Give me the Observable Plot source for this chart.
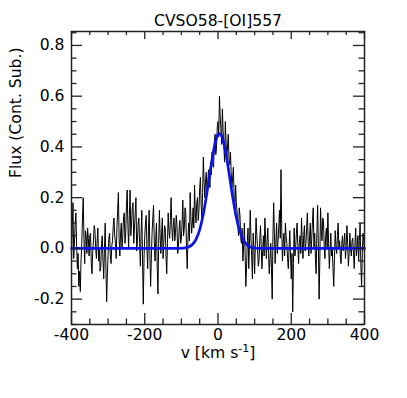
<!DOCTYPE html>
<html><head><meta charset="utf-8">
<script src="https://cdn.jsdelivr.net/npm/d3@7"></script>
<script src="https://cdn.jsdelivr.net/npm/@observablehq/plot@0.6"></script>
<style>body{margin:0;background:#fff}</style>
</head><body><div id="chart"></div>
<script>
const title = "CVSO58-[OI]557";
const xLabelMain = "v [km s";
const xLabelSup = "-1";
const xLabelEnd = "]";
const yLabel = "Flux (Cont. Sub.)";

// spectrum: one value every 2 km/s starting at -400 km/s
const vStart = -400, vStep = 2;
const flux = [
  -0.05, 0.08, 0.18, -0.04, 0.02, 0.10, 0.14, 0.01, -0.08, -0.02, -0.15, -0.09, -0.17, -0.05, 0.02, 0.12, 0.20, 0.04, -0.06, 0.07,
  0.05, -0.02, 0.08, 0.04, -0.03, 0.05, 0.06, -0.06, -0.10, -0.01, 0.03, 0.09, 0.07, 0.00, -0.04, 0.03, 0.08, -0.05, 0.00, -0.09,
  -0.07, 0.02, 0.05, -0.05, -0.12, 0.00, 0.10, -0.08, -0.21, -0.10, -0.02, 0.04, 0.06, -0.03, -0.06, 0.01, 0.03, 0.09, 0.12, 0.05,
  0.02, -0.04, 0.08, 0.15, 0.22, 0.04, -0.03, 0.06, 0.10, 0.00, 0.05, 0.12, 0.14, 0.02, 0.06, 0.17, 0.23, 0.09, 0.00, 0.13,
  0.23, 0.05, 0.10, 0.16, 0.18, 0.02, 0.08, 0.14, 0.20, -0.01, 0.03, 0.10, 0.12, 0.02, -0.07, 0.06, 0.15, -0.05, -0.22, -0.04,
  0.05, 0.10, 0.13, 0.00, -0.08, 0.07, 0.15, -0.02, -0.15, -0.04, 0.06, 0.12, 0.17, 0.03, -0.05, 0.04, 0.10, -0.07, -0.18, 0.02,
  0.15, 0.05, -0.02, 0.06, 0.12, -0.04, 0.02, 0.09, 0.08, -0.03, -0.10, 0.02, 0.14, 0.07, 0.04, 0.11, 0.20, 0.08, 0.03, 0.09,
  0.12, 0.03, 0.06, 0.13, 0.09, -0.02, 0.01, 0.08, 0.11, 0.02, 0.04, 0.10, 0.19, 0.05, 0.08, 0.16, 0.14, 0.00, -0.08, 0.04,
  0.10, 0.03, 0.22, 0.12, 0.06, 0.10, 0.16, 0.08, 0.25, 0.14, 0.10, 0.18, 0.20, 0.11, 0.15, 0.24, 0.28, 0.17, 0.12, 0.22,
  0.36, 0.26, 0.20, 0.27, 0.30, 0.22, 0.25, 0.31, 0.28, 0.24, 0.34, 0.29, 0.38, 0.33, 0.32, 0.42, 0.45, 0.37, 0.40, 0.48,
  0.50, 0.44, 0.60, 0.52, 0.47, 0.41, 0.55, 0.46, 0.40, 0.34, 0.50, 0.42, 0.36, 0.40, 0.45, 0.35, 0.33, 0.38, 0.30, 0.24,
  0.28, 0.32, 0.20, 0.14, 0.25, 0.18, 0.15, 0.09, 0.05, 0.16, 0.13, 0.04, 0.02, 0.08, -0.05, 0.01, 0.10, -0.02, -0.15, -0.07,
  0.03, 0.08, -0.08, 0.02, 0.15, 0.04, -0.03, -0.12, 0.06, 0.00, -0.10, 0.02, 0.12, 0.05, 0.00, -0.07, -0.05, 0.03, 0.09, 0.01,
  -0.08, -0.01, 0.05, -0.03, 0.12, 0.04, -0.04, 0.03, 0.08, -0.02, -0.10, -0.04, 0.02, -0.08, -0.20, 0.05, 0.18, 0.06, -0.06, 0.02,
  0.10, -0.02, 0.03, 0.09, 0.15, 0.04, 0.31, 0.08, -0.05, 0.02, 0.06, -0.03, 0.10, 0.05, 0.02, -0.04, -0.08, 0.00, 0.07, -0.03,
  -0.12, -0.02, -0.25, -0.06, 0.08, -0.03, 0.00, 0.06, 0.10, 0.01, -0.06, 0.02, 0.05, -0.02, 0.12, 0.03, -0.04, 0.05, 0.09, -0.01,
  0.02, 0.08, 0.14, 0.03, -0.03, 0.05, 0.10, -0.02, 0.04, 0.11, 0.16, 0.00, 0.06, -0.04, -0.10, 0.06, 0.17, 0.02, -0.20, -0.05,
  0.16, 0.07, 0.03, 0.12, 0.11, 0.01, -0.04, 0.05, 0.08, 0.00, 0.14, 0.02, -0.08, -0.01, 0.06, -0.03, 0.00, -0.08, -0.15, -0.04,
  0.07, 0.01, -0.02, 0.05, 0.10, 0.00, 0.03, -0.03, -0.06, 0.02, 0.05, -0.01, 0.02, 0.06, -0.04, 0.01, 0.09, 0.02, -0.07, -0.02,
  0.06, 0.00, -0.03, 0.03, 0.04, -0.02, -0.08, 0.02, 0.08, -0.03, 0.01, 0.05, -0.05, 0.03, 0.10, -0.06, -0.15, -0.02, 0.06, 0.03,
  -0.02
];

// Gaussian fit
const fitV    = [-400, -110, -100, -90, -80, -70, -60, -50, -40, -30, -20, -10, 0, 4, 10, 20, 30, 40, 50, 60, 70, 80, 90, 100, 110, 400];
const fitFlux = [0, 0.0002, 0.0006, 0.0022, 0.0057, 0.0152, 0.0358, 0.0743, 0.136, 0.221, 0.317, 0.401, 0.449, 0.453, 0.443, 0.387, 0.298, 0.203, 0.122, 0.065, 0.0305, 0.0126, 0.0046, 0.0015, 0.0003, 0];

const xMajor = [-400, -200, 0, 200, 400];
const xMinor = [-350, -300, -250, -150, -100, -50, 50, 100, 150, 250, 300, 350];
const yMajor = [-0.2, 0, 0.2, 0.4, 0.6, 0.8];
const yMinor = [-0.3, -0.25, -0.15, -0.1, -0.05, 0.05, 0.1, 0.15, 0.25, 0.3, 0.35, 0.45, 0.5, 0.55, 0.65, 0.7, 0.75, 0.85];

const spectrum = flux.map((f, i) => ({v: vStart + i * vStep, f}));
const fit = fitV.map((v, i) => ({v, f: fitFlux[i]}));

const W = 407, H = 398, mL = 71, mR = 43, mT = 31, mB = 74;
const fw = W - mL - mR, fh = H - mT - mB;
const ink = "#222";
const fs = 15.6;

const chart = Plot.plot({
  width: W, height: H,
  marginLeft: mL, marginRight: mR, marginTop: mT, marginBottom: mB,
  style: {fontFamily: "'DejaVu Sans', sans-serif", fontSize: fs + "px", background: "white", color: "black"},
  x: {domain: [-400, 400]},
  y: {domain: [-0.3, 0.855]},
  marks: [
    Plot.line(spectrum, {x: "v", y: "f", stroke: "black", strokeWidth: 1}),
    Plot.line(fit, {x: "v", y: "f", stroke: "#0a14e6", strokeWidth: 2.7, curve: "monotone-x"}),
    Plot.ruleX(xMajor, {x: d => d, insetTop: fh - 11, stroke: ink, strokeWidth: 1.3}),
    Plot.ruleX(xMinor, {x: d => d, insetTop: fh - 5.5, stroke: ink, strokeWidth: 1.3}),
    Plot.ruleX(xMajor, {x: d => d, insetBottom: fh - 8, stroke: ink, strokeWidth: 1.3}),
    Plot.ruleX(xMinor, {x: d => d, insetBottom: fh - 4, stroke: ink, strokeWidth: 1.3}),
    Plot.ruleY(yMajor, {y: d => d, insetRight: fw - 11, stroke: ink, strokeWidth: 1.3}),
    Plot.ruleY(yMinor, {y: d => d, insetRight: fw - 5.5, stroke: ink, strokeWidth: 1.3}),
    Plot.ruleY(yMajor, {y: d => d, insetLeft: fw - 11, stroke: ink, strokeWidth: 1.3}),
    Plot.ruleY(yMinor, {y: d => d, insetLeft: fw - 5.5, stroke: ink, strokeWidth: 1.3}),
    Plot.frame({stroke: ink, strokeWidth: 1.5}),
    Plot.axisX({ticks: xMajor, tickSize: 0, tickPadding: 4, tickFormat: d => String(d), label: null, fontSize: fs, fill: "black"}),
    Plot.axisY({ticks: yMajor, tickSize: 0, tickPadding: 7, tickFormat: d => d.toFixed(1), label: null, fontSize: fs, fill: "black"}),
    Plot.text([title], {text: d => d, frameAnchor: "top", dy: -17, fontSize: fs, fill: "black"}),
    Plot.text([xLabelMain + xLabelSup + xLabelEnd], {text: d => d, frameAnchor: "bottom", dy: 33, fontSize: fs, fill: "black"}),
    Plot.text([yLabel], {text: d => d, frameAnchor: "left", dx: -56, rotate: -90, fontSize: fs, fill: "black"})
  ]
});
// superscript for the unit
for (const t of chart.querySelectorAll("text")) {
  if (t.textContent === xLabelMain + xLabelSup + xLabelEnd) {
    t.textContent = "";
    const ns = "http://www.w3.org/2000/svg";
    const a = document.createElementNS(ns, "tspan"); a.textContent = xLabelMain;
    const b = document.createElementNS(ns, "tspan"); b.textContent = xLabelSup;
    b.setAttribute("dy", "-6"); b.setAttribute("font-size", "11px");
    const c = document.createElementNS(ns, "tspan"); c.textContent = xLabelEnd;
    c.setAttribute("dy", "6");
    t.append(a, b, c);
  }
}
document.getElementById("chart").append(chart);
</script>
</body></html>
